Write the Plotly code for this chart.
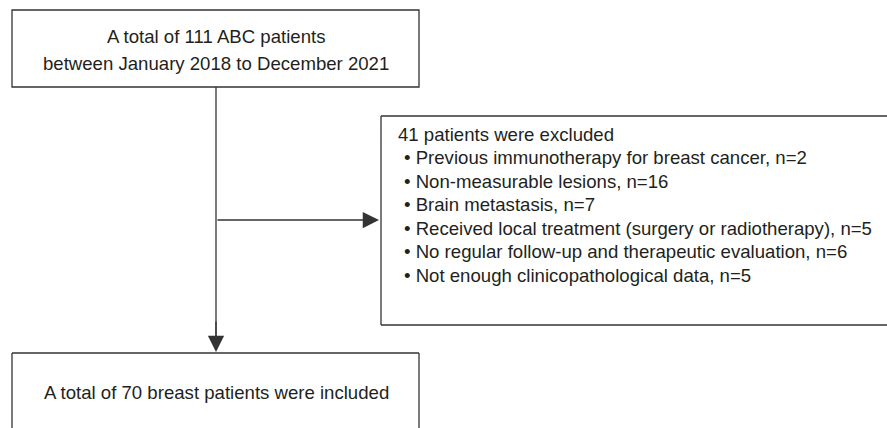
import plotly.graph_objects as go

# ---- data ----
total_patients = 111
study_period = ["January 2018", "December 2021"]
excluded_total = 41
exclusion_reasons = [
    "Previous immunotherapy for breast cancer",
    "Non-measurable lesions",
    "Brain metastasis",
    "Received local treatment (surgery or radiotherapy)",
    "No regular follow-up and therapeutic evaluation",
    "Not enough clinicopathological data",
]
exclusion_counts = [2, 16, 7, 5, 6, 5]
included_patients = 70

W, H = 887, 428
LINE = "#333333"
TXT = "#231f20"
FONT = dict(family="Liberation Sans, Arial, Helvetica, sans-serif", size=18.6, color=TXT)

fig = go.Figure()
fig.add_trace(go.Scatter(x=[0, W], y=[0, H], mode="markers",
                         marker=dict(opacity=0), hoverinfo="skip", showlegend=False))

shapes = []
def box(x0, y0, x1, y1):
    shapes.append(dict(type="rect", xref="x", yref="y", x0=x0, y0=y0, x1=x1, y1=y1,
                       line=dict(color=LINE, width=1.3), fillcolor="rgba(0,0,0,0)"))

def seg(x0, y0, x1, y1):
    shapes.append(dict(type="line", xref="x", yref="y", x0=x0, y0=y0, x1=x1, y1=y1,
                       line=dict(color=LINE, width=1.3)))

# top box
box(12, 10, 419, 87)
# exclusion box (runs off the right edge of the picture)
seg(381, 116, 887, 116)
seg(381, 116, 381, 325)
seg(381, 325, 887, 325)
# bottom box (runs off the bottom edge of the picture)
seg(12, 353, 419, 353)
seg(12, 353, 12, 428)
seg(419, 353, 419, 428)

# vertical connector
seg(216, 87, 216, 340)

ann = []
def arrow(x0, y0, x1, y1):
    ann.append(dict(x=x1, y=y1, ax=x0, ay=y0, xref="x", yref="y", axref="x", ayref="y",
                    showarrow=True, arrowhead=2, arrowsize=2.5, arrowwidth=1.3,
                    arrowcolor=LINE, text=""))

arrow(216, 320, 216, 352)
arrow(216, 220, 379, 220)

def text(x, y, s, anchor="center"):
    ann.append(dict(x=x, y=y, xref="x", yref="y", text=s, showarrow=False,
                    xanchor=anchor, yanchor="middle", font=FONT))

text(216, 36, f"A total of {total_patients} ABC patients")
text(216, 63, f"between {study_period[0]} to {study_period[1]}")

text(396, 134, f"{excluded_total} patients were excluded", "left")
for i, (r, n) in enumerate(zip(exclusion_reasons, exclusion_counts)):
    text(402, 157.5 + i * 23.5, f"\u2022 {r}, n={n}", "left")

text(216, 392, f"A total of {included_patients} breast patients were included")

fig.update_layout(
    width=W, height=H, margin=dict(l=0, r=0, t=0, b=0),
    paper_bgcolor="white", plot_bgcolor="white",
    xaxis=dict(range=[0, W], visible=False, fixedrange=True),
    yaxis=dict(range=[H, 0], visible=False, fixedrange=True),
    shapes=shapes, annotations=ann, showlegend=False,
)
fig.write_html("out.html", config={"displayModeBar": False},
               post_script="document.body.style.margin='0';document.body.style.overflow='hidden';")
